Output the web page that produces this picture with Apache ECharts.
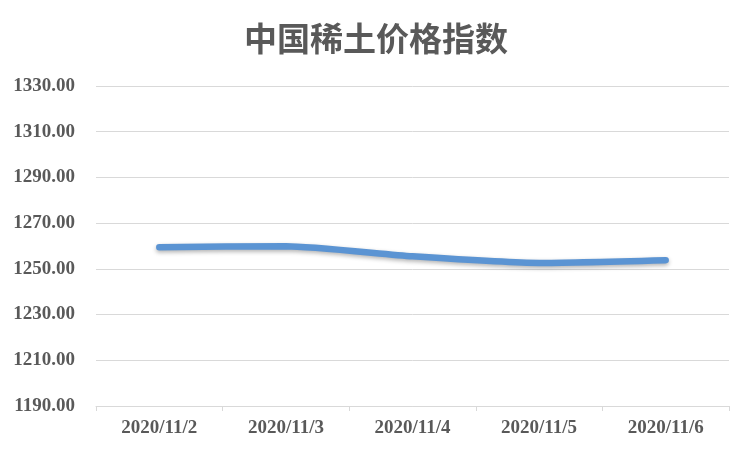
<!DOCTYPE html>
<html><head><meta charset="utf-8">
<script src="https://cdn.jsdelivr.net/npm/echarts@6/dist/echarts.min.js"></script>
<style>html,body{margin:0;padding:0;background:#fff}#c{width:752px;height:451px}</style>
</head><body><div id="c"></div>
<script>
var titleText = '中国稀土价格指数';
var categories = ['2020/11/2','2020/11/3','2020/11/4','2020/11/5','2020/11/6'];
var values = [1259.5, 1259.9, 1255.5, 1252.6, 1253.8];
var yMin = 1190, yMax = 1330, yStep = 20;

var chart = echarts.init(document.getElementById('c'));
chart.setOption({
  animation: false,
  backgroundColor: '#fff',
  title: {
    text: titleText, left: 'center', top: 17,
    textStyle: { fontFamily: 'Noto Sans CJK SC', fontSize: 33, fontWeight: 'bold', color: '#595959' }
  },
  grid: { left: 96, right: 23, top: 86, bottom: 45, containLabel: false },
  xAxis: {
    type: 'category', data: categories, boundaryGap: true,
    axisLine: { lineStyle: { color: '#d9d9d9', width: 1 } },
    axisTick: { show: true, length: 5, lineStyle: { color: '#d9d9d9' } },
    axisLabel: { margin: 13, fontFamily: 'Liberation Serif', fontSize: 19, fontWeight: 'bold', color: '#595959' }
  },
  yAxis: {
    type: 'value', min: yMin, max: yMax, interval: yStep,
    axisLine: { show: false }, axisTick: { show: false },
    splitLine: { lineStyle: { color: '#d9d9d9', width: 1 } },
    axisLabel: { margin: 21, fontFamily: 'Liberation Serif', fontSize: 19, fontWeight: 'bold', color: '#595959',
      formatter: function (v) { return v.toFixed(2); } }
  },
  series: [{
    type: 'line', data: values, smooth: 0.2, symbol: 'none',
    lineStyle: { color: '#5b94d3', width: 6.5, cap: 'round', shadowColor: 'rgba(0,0,0,0.3)', shadowBlur: 4, shadowOffsetY: 2 }
  }]
});
</script></body></html>
